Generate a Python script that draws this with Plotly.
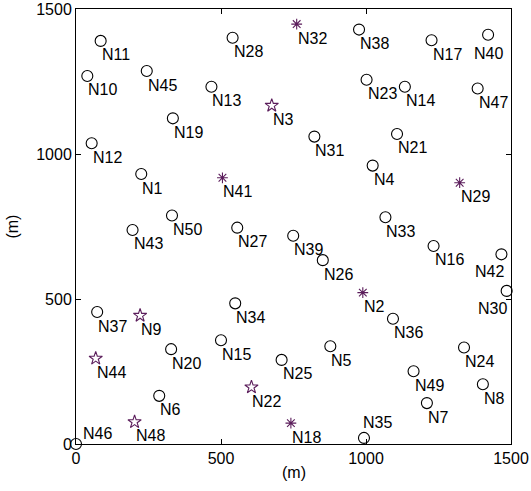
import plotly.graph_objects as go

# Node names and coordinates (m)
names = ["N1","N2","N3","N4","N5","N6","N7","N8","N9","N10",
         "N11","N12","N13","N14","N15","N16","N17","N18","N19","N20",
         "N21","N22","N23","N24","N25","N26","N27","N28","N29","N30",
         "N31","N32","N33","N34","N35","N36","N37","N38","N39","N40",
         "N41","N42","N43","N44","N45","N46","N47","N48","N49","N50"]
xs = [225, 989, 675, 1023, 877, 287, 1210, 1403, 221, 39,
      85, 54, 467, 1134, 500, 1233, 1226, 741, 334, 328,
      1107, 605, 1002, 1338, 709, 851, 556, 540, 1323, 1485,
      822, 761, 1067, 549, 993, 1093, 73, 976, 749, 1421,
      505, 1467, 195, 68, 244, 0, 1385, 202, 1164, 331]
ys = [931, 522, 1167, 960, 337, 166, 141, 206, 443, 1269,
      1390, 1037, 1232, 1232, 358, 683, 1392, 72, 1123, 327,
      1069, 196, 1256, 333, 290, 634, 746, 1401, 901, 528,
      1060, 1448, 782, 485, 21, 432, 455, 1429, 718, 1411,
      918, 654, 738, 295, 1286, 0, 1226, 76, 251, 788]
# node kinds
asterisk_nodes = ["N2", "N18", "N29", "N32", "N41"]
star_nodes = ["N3", "N9", "N22", "N44", "N48"]
tick_vals = [0, 500, 1000, 1500]
tick_text = ["0", "500", "1000", "1500"]
axis_title = "(m)"

purple = "#5b1d5b"
font = "Liberation Sans, Arial, sans-serif"

fig = go.Figure()

circ = [i for i, n in enumerate(names) if n not in asterisk_nodes and n not in star_nodes]
ast = [i for i, n in enumerate(names) if n in asterisk_nodes]
st = [i for i, n in enumerate(names) if n in star_nodes]

fig.add_trace(go.Scatter(x=[xs[i] for i in circ], y=[ys[i] for i in circ], mode="markers",
                         marker=dict(symbol="circle-open", size=11, color="black", line=dict(width=1.1)),
                         cliponaxis=False, showlegend=False))
fig.add_trace(go.Scatter(x=[xs[i] for i in st], y=[ys[i] for i in st], mode="markers",
                         marker=dict(symbol="star-open", size=10, color=purple, line=dict(width=1.1)),
                         cliponaxis=False, showlegend=False))
fig.add_trace(go.Scatter(x=[xs[i] for i in ast], y=[ys[i] for i in ast], mode="markers",
                         marker=dict(symbol="asterisk-open", size=9, color=purple, line=dict(width=1.1, color=purple)),
                         cliponaxis=False, showlegend=False))

# label placement exceptions: (xanchor, xshift, yshift)
special = {
    "N46": ("left", 5, 11),
    "N35": ("left", -3, 15),
    "N40": ("center", 0, -19),
    "N42": ("right", 5, -17),
    "N30": ("right", 2, -18),
}
for n, x, y in zip(names, xs, ys):
    xa, xsh, ysh = special.get(n, ("left", -1, -14))
    fig.add_annotation(x=x, y=y, text=n, showarrow=False, xanchor=xa, yanchor="middle",
                       xshift=xsh, yshift=ysh, font=dict(family=font, size=16, color="black"))

# axis titles
fig.add_annotation(xref="paper", yref="paper", x=0.5, y=-0.066, text=axis_title, showarrow=False,
                   xanchor="center", yanchor="middle", font=dict(family=font, size=16, color="black"))
fig.add_annotation(xref="paper", yref="paper", x=-0.147, y=0.5, text=axis_title, showarrow=False,
                   textangle=-90, xanchor="center", yanchor="middle",
                   font=dict(family=font, size=16, color="black"))

axis_common = dict(range=[0, 1500], tickvals=tick_vals, ticktext=tick_text, ticks="inside",
                   ticklen=5, tickcolor="black", showline=True, linecolor="black", linewidth=1,
                   mirror="ticks", showgrid=False, zeroline=False, automargin=False,
                   tickfont=dict(family=font, size=16, color="black"))

fig.update_xaxes(**axis_common)
fig.update_yaxes(**axis_common)

fig.update_layout(width=531, height=491, margin=dict(l=76, r=20, t=9, b=47),
                  plot_bgcolor="white", paper_bgcolor="white")

fig.write_html("out.html", config={"displayModeBar": False},
               post_script="document.body.style.margin='0';")
